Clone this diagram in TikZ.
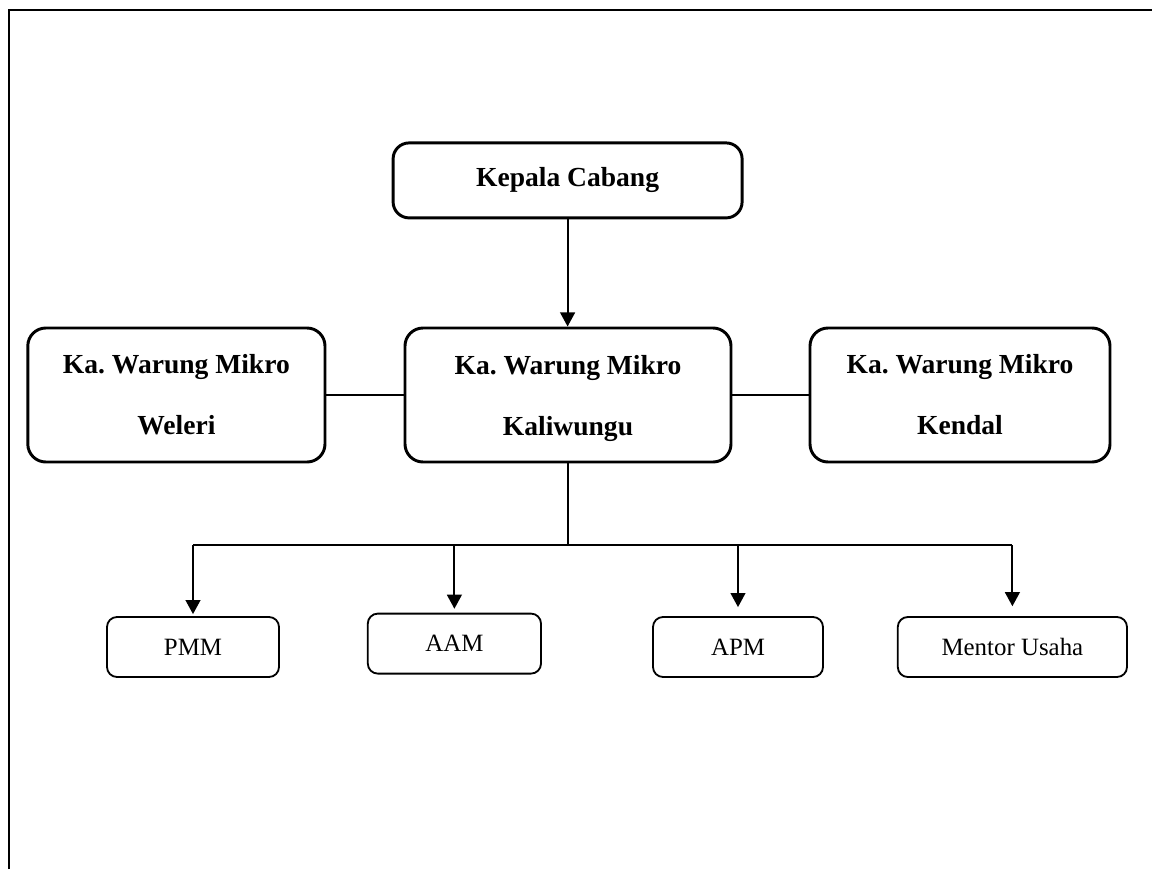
\documentclass[tikz,border=0pt]{standalone}
\usepackage{fontspec}
\setmainfont{Liberation Serif}
\frenchspacing
\usepackage{tikz}
\usetikzlibrary{arrows.meta, positioning}

\tikzset{
    bigbox/.style={draw, line width=2.1pt, rounded corners=0.45cm, align=center,
        font=\fontsize{19.6}{43.4}\selectfont\bfseries},
    smallbox/.style={draw, line width=1.3pt, rounded corners=0.25cm,
        minimum height=1.5cm, font=\fontsize{17.7}{21}\selectfont},
    link/.style={line width=1.3pt},
    arr/.style={line width=1.3pt, -{Triangle[width=10.5pt,length=10pt]}}
}

\begin{document}
\begin{tikzpicture}
        \useasboundingbox (0, 0) rectangle (28.8, -21.725);
        % Frame
        \draw [line width=1.4pt] (0.225, -21.725) -- (0.225, -0.25) -- (28.8, -0.25);
        % Top
        \node [bigbox, rounded corners=0.4cm, minimum width=8.725cm, minimum height=1.875cm] (kepala) at (14.19, -4.51) {Kepala Cabang};
        % Warung Mikro
        \node [bigbox, minimum width=8.15cm, minimum height=3.35cm] (kaliwungu) at (14.2, -9.875) {Ka. Warung Mikro\\\smash{Kaliwungu}};
        \node [bigbox, minimum width=7.43cm, minimum height=3.35cm] (weleri) at (4.41, -9.875) {Ka. Warung Mikro\\Weleri};
        \node [bigbox, minimum width=7.5cm, minimum height=3.35cm] (kendal) at (24.0, -9.875) {Ka. Warung Mikro\\Kendal};
        % Staff
        \node [smallbox, minimum width=4.3cm] (pmm) at (4.825, -16.175) {PMM};
        \node [smallbox, minimum width=4.33cm] (aam) at (11.36, -16.09) {AAM};
        \node [smallbox, minimum width=4.25cm] (apm) at (18.45, -16.175) {APM};
        \node [smallbox, minimum width=5.73cm] (mentor) at (25.31, -16.175) {Mentor Usaha};
        % Lines
        \draw [arr] (kepala.south) -- (kepala.south |- kaliwungu.north);
        \draw [link] (weleri) -- (kaliwungu);
        \draw [link] (kaliwungu) -- (kendal);
        \coordinate (bus) at (14.2, -13.625);
        \draw [link] (kaliwungu.south) -- (bus);
        \draw [link] (pmm.north |- bus) -- (mentor.north |- bus);
        \foreach \n/\g in {pmm/1.4pt, aam/2.8pt, apm/6.4pt, mentor/7pt}
            \draw [arr, shorten >=\g] (\n.north |- bus) -- (\n.north);
    \end{tikzpicture}
\end{document}
